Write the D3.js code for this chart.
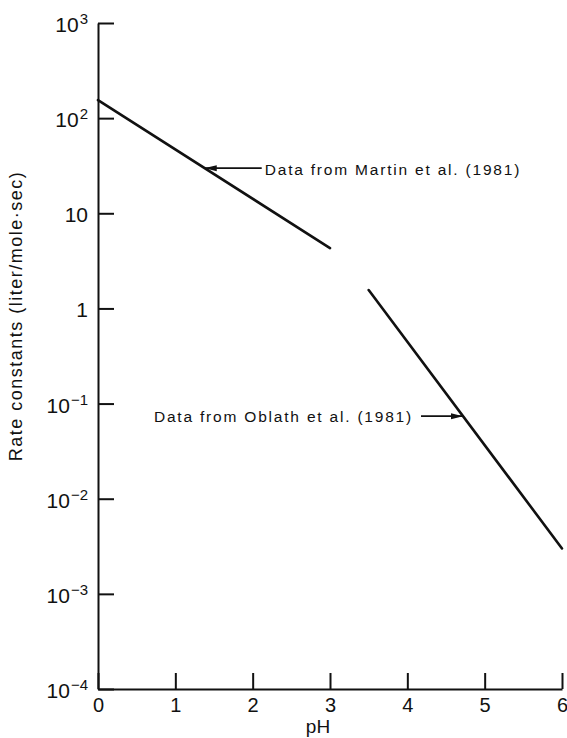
<!DOCTYPE html>
<html>
<head>
<meta charset="utf-8">
<script src="https://cdn.jsdelivr.net/npm/d3@7"></script>
<style>
  html, body { margin: 0; padding: 0; background: #fff; }
  svg { display: block; }
  text { font-family: "Liberation Sans", Arial, Helvetica, sans-serif; fill: #111; }
</style>
</head>
<body>
<svg id="chart" width="567" height="738"></svg>
<script>
// pH range and log-decade ticks
const pHTicks = [0, 1, 2, 3, 4, 5, 6];
const decadeExps = [-4, -3, -2, -1, 0, 1, 2, 3];

// Rate-constant fits (straight lines on the log scale)
const martinPH = [0, 3];
const martinK = [155, 4.3];
const oblathPH = [3.5, 6];
const oblathK = [1.56, 3.0e-3];

// Callouts: text, pH where the arrow touches its line
const calloutText = ["Data from Martin et al. (1981)", "Data from Oblath et al. (1981)"];
const calloutPH = [1.38, 4.72];

const svg = d3.select("#chart");
const x = d3.scaleLinear().domain([0, 6]).range([98, 562]);
const y = d3.scaleLog().domain([1e-4, 1e3]).range([689, 23]);
const ink = "#111";

// x axis, ticks pointing into the plot
const gx = svg.append("g").attr("transform", `translate(0,${y(1e-4)})`)
  .call(d3.axisBottom(x).tickValues(pHTicks).tickSizeInner(-16).tickSizeOuter(0).tickPadding(9).tickFormat(d3.format("d")));
gx.select(".domain").attr("stroke", ink).attr("stroke-width", 2);
gx.selectAll(".tick line").attr("stroke", ink).attr("stroke-width", 2);
gx.selectAll(".tick text").attr("font-size", 20).attr("fill", ink)
  .style("font-family", "'Liberation Sans', Arial, sans-serif");

// y axis, decade ticks pointing into the plot
const gy = svg.append("g").attr("transform", `translate(${x(0)},0)`)
  .call(d3.axisLeft(y).tickValues(decadeExps.map(e => Math.pow(10, e))).tickSizeInner(-16).tickSizeOuter(0).tickFormat(""));
gy.select(".domain").attr("stroke", ink).attr("stroke-width", 2);
gy.selectAll(".tick line").attr("stroke", ink).attr("stroke-width", 2);

// decade labels: 1, 10, otherwise 10 with a superscript exponent
const lbl = svg.append("g").selectAll("text").data(decadeExps).join("text")
  .attr("x", x(0) - 10)
  .attr("y", e => y(Math.pow(10, e)) + 9)
  .attr("text-anchor", "end")
  .attr("font-size", 21);
lbl.each(function (e) {
  const t = d3.select(this);
  if (e === 0) { t.text("1"); return; }
  if (e === 1) { t.text("10"); return; }
  t.append("tspan").text("10");
  t.append("tspan").attr("font-size", 15).attr("dy", -8).attr("dx", 1)
    .text(e < 0 ? "\u2212" + (-e) : String(e));
});

// axis titles
svg.append("text")
  .attr("transform", `translate(22,316) rotate(-90)`)
  .attr("text-anchor", "middle")
  .attr("font-size", 18)
  .attr("letter-spacing", 1.5)
  .text("Rate constants (liter/mole\u00b7sec)");

svg.append("text")
  .attr("x", 318).attr("y", 733)
  .attr("text-anchor", "middle")
  .attr("font-size", 19)
  .text("pH");

// fitted lines
const line = d3.line().x(d => x(d[0])).y(d => y(d[1]));
const series = [d3.zip(martinPH, martinK), d3.zip(oblathPH, oblathK)];
svg.append("g").selectAll("path").data(series).join("path")
  .attr("d", line)
  .attr("fill", "none")
  .attr("stroke", ink)
  .attr("stroke-width", 2.6)
  .attr("stroke-linecap", "round");

// value on a fitted line at a given pH (log-linear interpolation)
function kAt(pHs, ks, p) {
  const t = (p - pHs[0]) / (pHs[1] - pHs[0]);
  return Math.pow(10, Math.log10(ks[0]) + t * (Math.log10(ks[1]) - Math.log10(ks[0])));
}

svg.append("defs").append("marker")
  .attr("id", "head").attr("viewBox", "0 0 12 8")
  .attr("refX", 12).attr("refY", 4)
  .attr("markerWidth", 12).attr("markerHeight", 8)
  .attr("markerUnits", "userSpaceOnUse")
  .attr("orient", "auto")
  .append("path").attr("d", "M0,1 L12,4 L0,7 Z").attr("fill", ink);

// Martin callout: arrow pointing left onto the upper line
{
  const tx = x(calloutPH[0]), ty = y(kAt(martinPH, martinK, calloutPH[0]));
  svg.append("line").attr("x1", tx + 57).attr("y1", ty).attr("x2", tx).attr("y2", ty)
    .attr("stroke", ink).attr("stroke-width", 1.6).attr("marker-end", "url(#head)");
  svg.append("text").attr("x", tx + 60).attr("y", ty + 6.5)
    .attr("font-size", 15.5).attr("letter-spacing", 1.8)
    .text(calloutText[0]);
}

// Oblath callout: arrow pointing right onto the lower line
{
  const tx = x(calloutPH[1]), ty = y(kAt(oblathPH, oblathK, calloutPH[1]));
  svg.append("line").attr("x1", tx - 42).attr("y1", ty).attr("x2", tx).attr("y2", ty)
    .attr("stroke", ink).attr("stroke-width", 1.6).attr("marker-end", "url(#head)");
  svg.append("text").attr("x", tx - 50).attr("y", ty + 5.5)
    .attr("text-anchor", "end")
    .attr("font-size", 15.5).attr("letter-spacing", 1.8)
    .text(calloutText[1]);
}
</script>
</body>
</html>
